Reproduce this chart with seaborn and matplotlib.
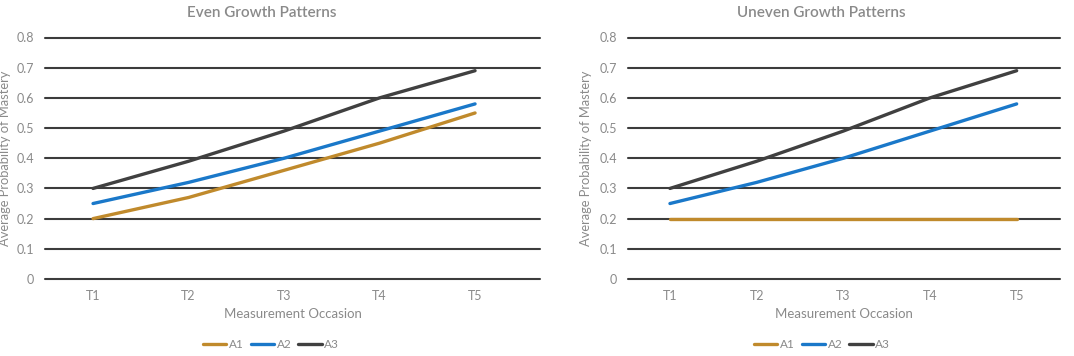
import matplotlib
matplotlib.use("Agg")
import matplotlib.pyplot as plt
import numpy as np
import pandas as pd
import seaborn as sns

occasions = ["T1", "T2", "T3", "T4", "T5"]
series = ["A1", "A2", "A3"]

even_a1 = [0.20, 0.27, 0.36, 0.45, 0.55]
even_a2 = [0.25, 0.32, 0.40, 0.49, 0.58]
even_a3 = [0.30, 0.39, 0.49, 0.60, 0.69]

uneven_a1 = [0.20, 0.20, 0.20, 0.20, 0.20]
uneven_a2 = [0.25, 0.32, 0.40, 0.49, 0.58]
uneven_a3 = [0.30, 0.39, 0.49, 0.60, 0.69]

colors = {"A1": "#C08A2C", "A2": "#1A78C9", "A3": "#404040"}
txt = "#8a8a8a"


def long_df(a1, a2, a3):
    rows = []
    for name, vals in zip(series, [a1, a2, a3]):
        for i, v in enumerate(vals):
            rows.append({"pos": i, "occ": occasions[i], "series": name, "value": v})
    return pd.DataFrame(rows)


sns.set_theme(style="white")
plt.rcParams["font.family"] = ["Lato", "DejaVu Sans"]

fig = plt.figure(figsize=(10.74, 3.56), dpi=100)
W, H = 1074, 356

# axes boxes in pixels: left, right, top, bottom, xlim
boxes = [(45, 540, 37.5, 279, -0.503, 4.68),
         (628, 1060, 37.5, 279, -0.484, 4.50)]
titles = ["Even Growth Patterns", "Uneven Growth Patterns"]
title_x = [262, 821]
legend_x = [271, 822]
ylabel_x = [11, 592]
data = [long_df(even_a1, even_a2, even_a3), long_df(uneven_a1, uneven_a2, uneven_a3)]

for k in range(2):
    l, r, t, b, x0, x1 = boxes[k]
    ax = fig.add_axes([l / W, 1 - b / H, (r - l) / W, (b - t) / H])
    for y in np.arange(0, 0.81, 0.1):
        ax.axhline(y, color="#3c3c3c", lw=1.5, zorder=1, clip_on=False)
    sns.lineplot(data=data[k], x="pos", y="value", hue="series", palette=colors,
                 linewidth=2.4, ax=ax, legend=False, zorder=3)
    ax.set_xlim(x0, x1)
    ax.set_ylim(0, 0.8)
    ax.set_xticks(range(len(occasions)))
    ax.set_xticklabels(occasions)
    ax.set_yticks(np.arange(0, 0.81, 0.1))
    ax.set_yticklabels(["0"] + [f"{v:.1f}" for v in np.arange(0.1, 0.81, 0.1)])
    ax.tick_params(axis="both", length=0, labelsize=9, colors=txt)
    ax.tick_params(axis="x", pad=8)
    ax.tick_params(axis="y", pad=8)
    for s in ax.spines.values():
        s.set_visible(False)
    ax.set_xlabel("Measurement Occasion", fontsize=9.5, color=txt, labelpad=4)
    ax.set_ylabel("Average Probability of Mastery", fontsize=9.3, color=txt)
    ax.yaxis.set_label_coords((ylabel_x[k] - l) / (r - l), 0.5)
    fig.text(title_x[k] / W, 1 - 13 / H, titles[k], ha="center", va="center",
             fontsize=11, color=txt, fontweight="semibold")
    handles = [plt.Line2D([], [], color=colors[s], lw=2.4) for s in series]
    fig.legend(handles, series, loc="center", ncol=3, frameon=False,
               bbox_to_anchor=(legend_x[k] / W, 1 - 345 / H),
               fontsize=8.5, labelcolor=txt, handlelength=2.0, handletextpad=0.2,
               columnspacing=0.6)

fig.savefig("out.png", dpi=100)
